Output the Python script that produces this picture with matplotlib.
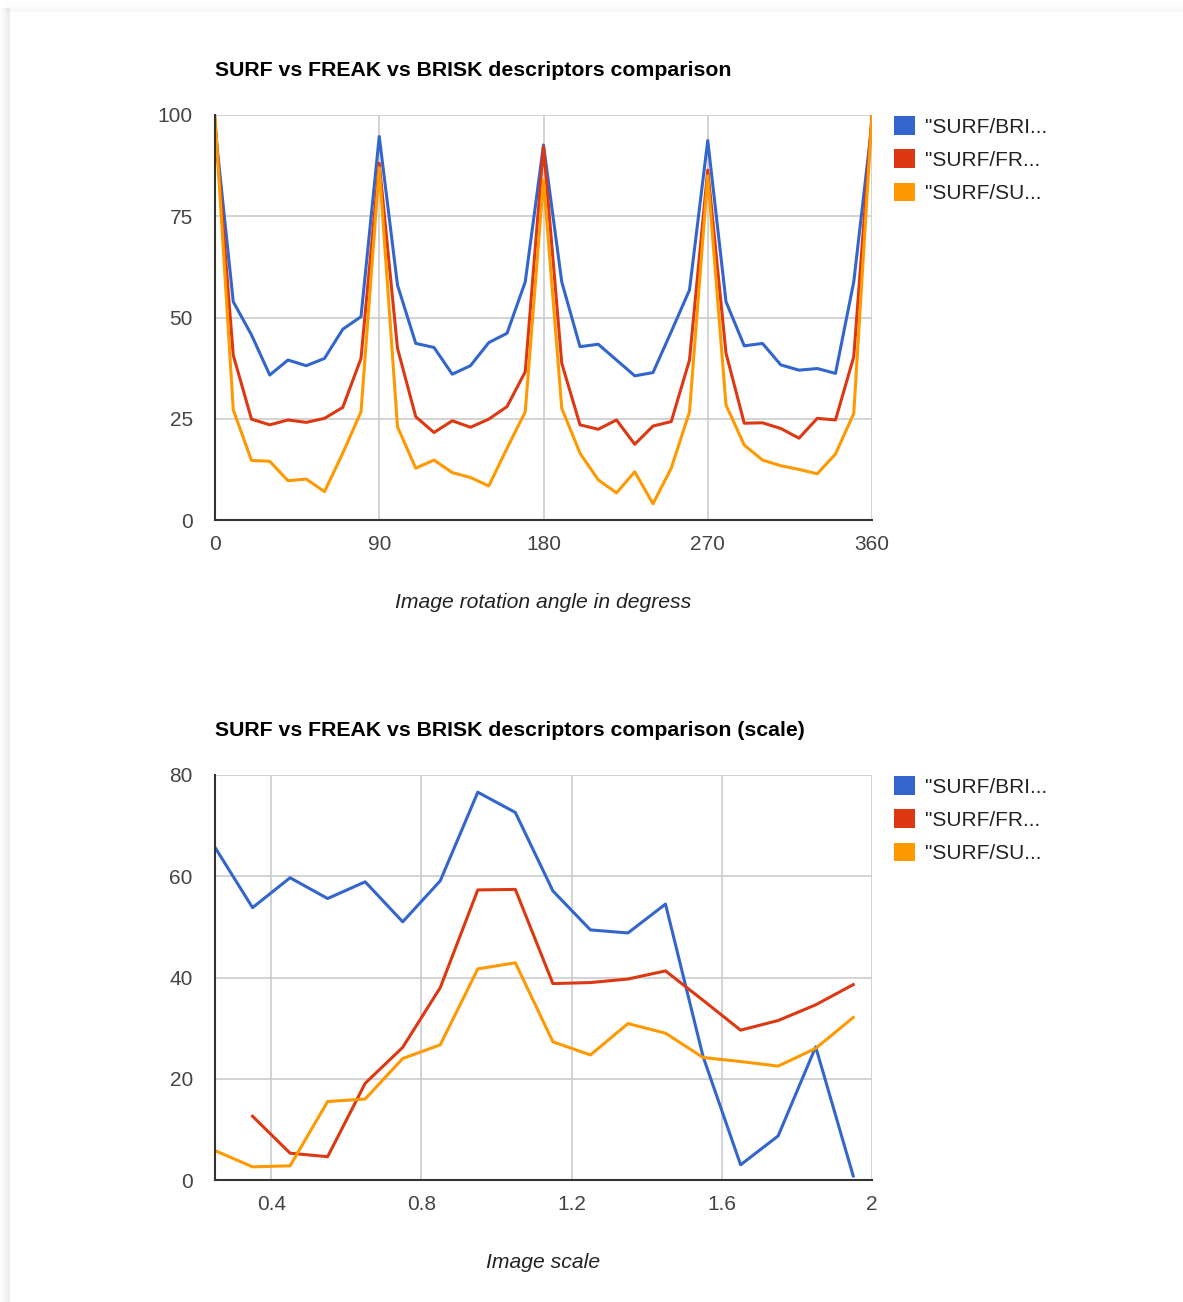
import numpy as np
import matplotlib.pyplot as plt
from matplotlib.patches import Patch, Rectangle

plt.rcParams['font.family'] = ['Liberation Sans', 'DejaVu Sans']

# rotation chart
angles = np.arange(0, 361, 10)
rot_brisk = [97, 53.9, 45.7, 35.8, 39.5, 38.1, 39.9, 47.1, 50.2, 94.7,
             58.0, 43.6, 42.6, 36.0, 38.1, 43.8, 46.1, 58.8, 92.6,
             58.8, 42.8, 43.4, 39.5, 35.6, 36.4, 46.5, 56.8, 93.7,
             53.9, 43.0, 43.6, 38.3, 37.0, 37.4, 36.2, 58.8, 98]
rot_freak = [98, 40.7, 24.9, 23.5, 24.7, 24.1, 25.1, 27.8, 39.9, 88.1,
             42.4, 25.5, 21.6, 24.5, 22.9, 24.9, 28.0, 36.6, 92.2,
             38.7, 23.5, 22.4, 24.7, 18.7, 23.2, 24.3, 39.5, 86.4,
             41.2, 23.9, 24.0, 22.6, 20.2, 25.1, 24.7, 40.3, 100]
rot_surf = [100, 27.2, 14.7, 14.5, 9.7, 10.1, 7.0, 16.5, 26.7, 87,
            23.0, 12.8, 14.8, 11.7, 10.5, 8.4, 17.7, 26.7, 84,
            27.6, 16.5, 9.9, 6.7, 11.9, 4.0, 12.8, 26.7, 85,
            28.4, 18.5, 14.8, 13.4, 12.5, 11.4, 16.3, 26.3, 100]

# scale chart
scales = [0.25, 0.35, 0.45, 0.55, 0.65, 0.75, 0.85, 0.95, 1.05, 1.15,
          1.25, 1.35, 1.45, 1.55, 1.65, 1.75, 1.85, 1.95]
sc_brisk = [65.7, 53.8, 59.7, 55.6, 58.9, 51.0, 59.1, 76.6, 72.6, 57.1,
            49.4, 48.8, 54.5, 24.4, 3.0, 8.7, 26.3, 0.8]
sc_freak = [np.nan, 12.6, 5.3, 4.6, 19.1, 26.2, 38.0, 57.3, 57.4, 38.8,
            39.0, 39.7, 41.3, 35.5, 29.6, 31.5, 34.6, 38.6]
sc_surf = [5.8, 2.6, 2.8, 15.5, 16.0, 24.0, 26.7, 41.7, 42.9, 27.3,
           24.7, 30.9, 29.0, 24.2, 23.4, 22.5, 26.0, 32.1]

labels = ['"SURF/BRI...', '"SURF/FR...', '"SURF/SU...']
colors = ['#3366cc', '#dc3912', '#ff9900']

W, H = 1183, 1302
fig = plt.figure(figsize=(W / 100, H / 100), dpi=100)

# soft card shadow along the left and top edges of the card
card_x, card_y = 10, 12
for i in range(10):
    a = 0.035 * (10 - i) / 10
    fig.patches.append(Rectangle(((card_x - 1 - i) / W, 0), 1 / W, 1 - (card_y - 4) / H,
                                 transform=fig.transFigure, facecolor='black',
                                 edgecolor='none', alpha=a * 2.2, zorder=-10))
    fig.patches.append(Rectangle(((card_x - 4) / W, 1 - (card_y - i) / H), 1, 1 / H,
                                 transform=fig.transFigure, facecolor='black',
                                 edgecolor='none', alpha=a * 0.9, zorder=-10))


def style(ax):
    ax.grid(True, color='#cccccc', lw=1.2)
    ax.set_axisbelow(True)
    for s in ['top', 'right']:
        ax.spines[s].set_visible(False)
    ax.spines['left'].set_color('#333333')
    ax.spines['bottom'].set_color('#333333')
    ax.spines['left'].set_linewidth(1.5)
    ax.spines['bottom'].set_linewidth(1.5)
    ax.tick_params(length=0, labelsize=15, labelcolor='#444444')
    ax.tick_params(axis='y', pad=16)
    ax.tick_params(axis='x', pad=11)
    handles = [Patch(facecolor=c, edgecolor='none') for c in colors]
    ax.legend(handles, labels, loc='upper left', bbox_to_anchor=(1.021, 1.018),
              frameon=False, fontsize=15, handlelength=1.0, handleheight=1.0,
              handletextpad=0.5, labelspacing=0.62, labelcolor='#222222',
              borderaxespad=0)


ax1 = fig.add_axes([215 / W, 1 - 520 / H, 657 / W, 405 / H])
ax1.plot(angles, rot_brisk, color=colors[0], lw=2.2)
ax1.plot(angles, rot_freak, color=colors[1], lw=2.2)
ax1.plot(angles, rot_surf, color=colors[2], lw=2.2)
ax1.set_xlim(0, 360)
ax1.set_ylim(0, 100)
ax1.set_xticks([0, 90, 180, 270, 360])
ax1.set_yticks([0, 25, 50, 75, 100])
style(ax1)

ax2 = fig.add_axes([215 / W, 1 - 1180 / H, 657 / W, 405 / H])
ax2.plot(scales, sc_brisk, color=colors[0], lw=2.2)
ax2.plot(scales, sc_freak, color=colors[1], lw=2.2)
ax2.plot(scales, sc_surf, color=colors[2], lw=2.2)
ax2.set_xlim(0.25, 2)
ax2.set_ylim(0, 80)
ax2.set_xticks([0.4, 0.8, 1.2, 1.6, 2])
ax2.set_xticklabels(['0.4', '0.8', '1.2', '1.6', '2'])
ax2.set_yticks([0, 20, 40, 60, 80])
style(ax2)

fig.text(215 / W, 1 - 70 / H, 'SURF vs FREAK vs BRISK descriptors comparison',
         fontsize=15.3, fontweight='bold', color='#000000', va='center', ha='left')
fig.text(215 / W, 1 - 730 / H, 'SURF vs FREAK vs BRISK descriptors comparison (scale)',
         fontsize=15.3, fontweight='bold', color='#000000', va='center', ha='left')
fig.text(543 / W, 1 - 602 / H, 'Image rotation angle in degress', fontsize=15.2,
         style='italic', color='#222222', va='center', ha='center')
fig.text(543 / W, 1 - 1262 / H, 'Image scale', fontsize=15.2,
         style='italic', color='#222222', va='center', ha='center')

fig.savefig('out.png', dpi=100)
